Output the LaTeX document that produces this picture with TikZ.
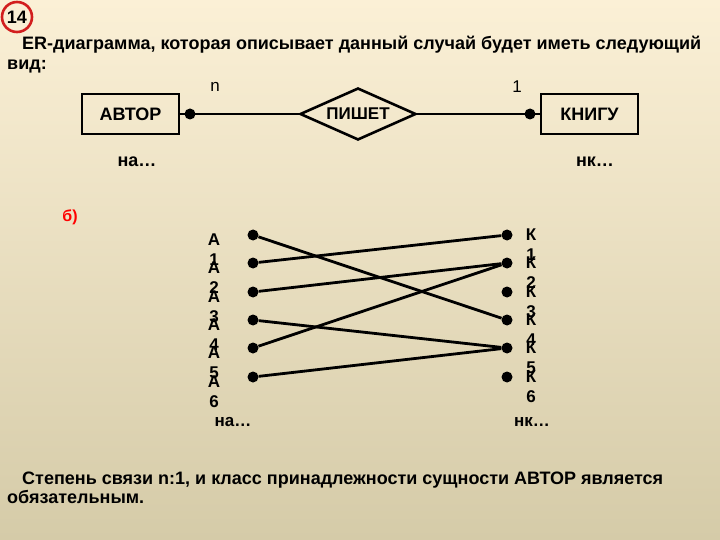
\documentclass[tikz,border=0pt]{standalone}
\usepackage{fontspec}
\setmainfont{Liberation Sans}
\usetikzlibrary{shapes.geometric}
\definecolor{bgtop}{RGB}{251,240,214}
\definecolor{bgbot}{RGB}{213,203,168}
\definecolor{ring}{RGB}{210,30,30}
\tikzset{
  txt/.style={inner sep=0pt, font=\fontsize{18}{20}\selectfont\bfseries},
  lbl/.style={inner sep=0pt, font=\fontsize{17}{18}\selectfont},
  blbl/.style={inner sep=0pt, font=\fontsize{18}{18}\selectfont\bfseries},
  ent/.style={draw, line width=1.8pt, minimum width=97pt, minimum height=40pt, inner sep=0pt, font=\fontsize{18}{18}\selectfont\bfseries},
  rel/.style={draw, diamond, line width=2.6pt, aspect=2.23, minimum width=116pt, minimum height=52pt, inner sep=0pt, font=\fontsize{17}{18}\selectfont\bfseries},
  dot/.style={circle, fill=black, minimum size=11pt, inner sep=0pt},
  link/.style={line width=2.8pt},
  col/.style={inner sep=0pt, align=center, font=\fontsize{17}{20}\selectfont\bfseries},
}
\begin{document}
\begin{tikzpicture}[x=1pt,y=-1pt]
\useasboundingbox (0,0) rectangle (720,540);
\shade[top color=bgtop, bottom color=bgbot] (0,0) rectangle (720,540);
% number badge
\node[circle, draw=ring, line width=2.6pt, minimum size=30pt, inner sep=0pt, font=\fontsize{18}{20}\selectfont\bfseries] (num) at (17,17) {14};
% heading
\node[txt, anchor=base west] (h1) at (22,50) {ER-диаграмма, которая описывает данный случай будет иметь следующий};
\node[txt, anchor=base west] (h2) at (7,70) {вид:};
% ER diagram
\node[ent] (avt) at (130.5,114) {АВТОР};
\node[rel] (pis) at (358,114) {\raisebox{-1pt}{ПИШЕТ}};
\node[ent] (kn) at (589.5,114) {КНИГУ};
\node[dot] (d1) at (190,114) {};
\node[dot] (d2) at (530,114) {};
\draw[link] (avt.east) -- (d1.center) -- (pis.west);
\draw[link] (pis.east) -- (d2.center) -- (kn.west);
\node[lbl, anchor=base] (n) at (215,92) {n};
\node[lbl, anchor=base] (one) at (517,93) {1};
\node[blbl, anchor=base] (na1) at (137,167) {на…};
\node[blbl, anchor=base] (nk1) at (595,167) {нк…};
% part b
\node[inner sep=0pt, text=red, font=\fontsize{16}{17}\selectfont\bfseries] (b) at (70,217) {б)};
% bipartite columns
\foreach \i/\y in {1/235,2/263,3/292,4/320,5/348,6/377}{
  \node[dot] (a\i) at (253,\y) {};
  \node[dot] (k\i) at (507,\y) {};
  \node[col, anchor=north] (la\i) at (214,\y-1) {А\\\i};
  \node[col, anchor=north] (lk\i) at (531,\y-6) {К\\\i};
}
\draw[link] (a1) -- (k4);
\draw[link] (a2) -- (k1);
\draw[link] (a3) -- (k2);
\draw[link] (a4) -- (k5);
\draw[link] (a5) -- (k2);
\draw[link] (a6) -- (k5);
\node[blbl, font=\fontsize{17}{18}\selectfont\bfseries, anchor=base] (na2) at (233,426) {на…};
\node[blbl, font=\fontsize{17}{18}\selectfont\bfseries, anchor=base] (nk2) at (532,426) {нк…};
% conclusion
\node[txt, anchor=base west] (c1) at (22,484) {Степень связи n:1, и класс принадлежности сущности АВТОР является};
\node[txt, anchor=base west] (c2) at (7,503) {обязательным.};
\end{tikzpicture}
\end{document}
